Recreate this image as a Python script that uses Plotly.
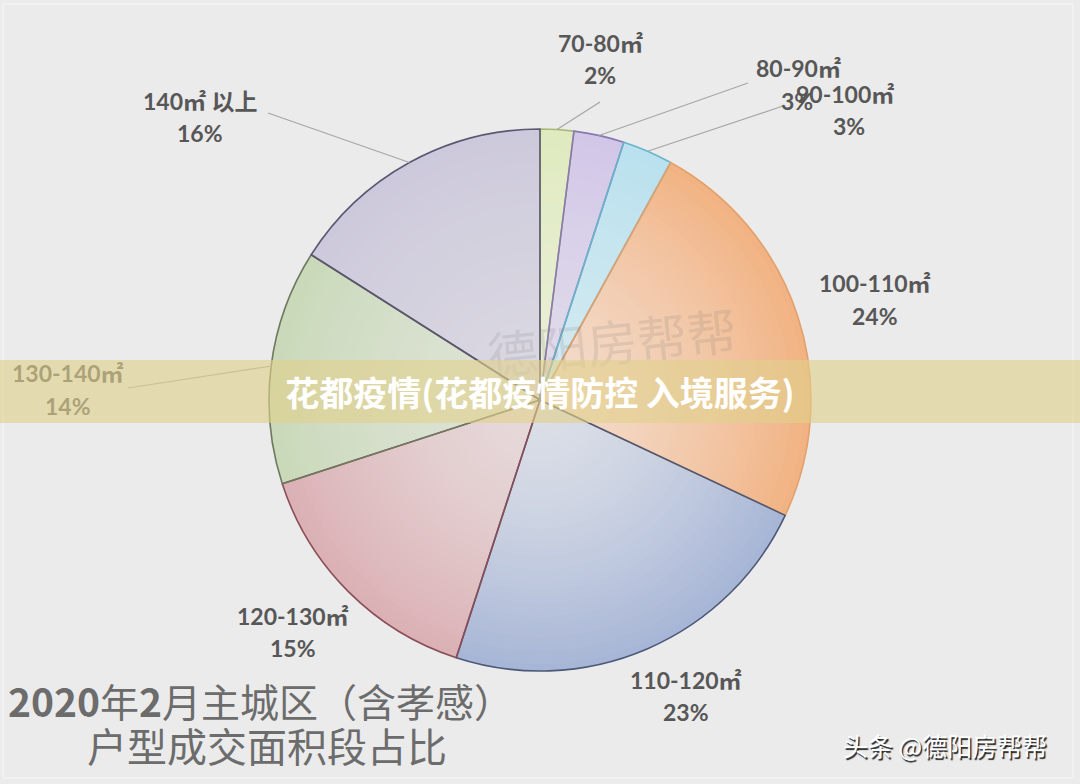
import math
import plotly.graph_objects as go

# ---- data ----
categories = ["70-80㎡", "80-90㎡", "90-100㎡", "100-110㎡", "110-120㎡",
              "120-130㎡", "130-140㎡", "140㎡ 以上"]
shares = [2, 3, 3, 24, 23, 15, 14, 16]
pct_labels = ["2%", "3%", "3%", "24%", "23%", "15%", "14%", "16%"]

# ---- styles ----
rim_colors = ["#dfeabf", "#d2c6e8", "#b9e1ee", "#f1b383", "#a7b6d6",
              "#dbb1b5", "#cad9ba", "#cdc9dc"]
center_colors = ["#e9efd6", "#e0dbea", "#d3e9f0", "#f3dccc", "#dcdfe7",
                 "#e6dadb", "#dfe4d8", "#dad8e1"]
line_colors = ["#a9b878", "#8a78b0", "#6ab4cc", "#e3a06a", "#4b5878",
               "#8a4e56", "#6e7a60", "#5c5670"]

W, H = 1080, 784
CX, CY, R = 540, 400, 271
BG = "#ebebeb"
LABEL_COLOR = "#575757"


def px_to_paper(x, y):
    return x / W, 1 - y / H


def hex_to_rgb(h):
    h = h.lstrip("#")
    return tuple(int(h[i:i + 2], 16) for i in (0, 2, 4))


def mix(c1, c2, t):
    a, b = hex_to_rgb(c1), hex_to_rgb(c2)
    return "rgb(%d,%d,%d)" % tuple(round(a[i] + (b[i] - a[i]) * t) for i in range(3))


def domain_for(f):
    r = f * R
    return dict(x=[(CX - r) / W, (CX + r) / W],
                y=[(H - CY - r) / H, (H - CY + r) / H])


fig = go.Figure()

# radial gradient via stacked pies of decreasing radius
N = 40
for k in range(N):
    f = 1 - k / N
    t = f ** 1.5
    cols = [mix(center_colors[i], rim_colors[i], t) for i in range(len(shares))]
    fig.add_trace(go.Pie(
        labels=categories, values=shares, sort=False, direction="clockwise",
        rotation=0, textinfo="none", hoverinfo="skip", showlegend=False,
        marker=dict(colors=cols, line=dict(width=0)),
        domain=domain_for(f),
    ))

# outlines
fig.add_trace(go.Pie(
    labels=categories, values=shares, sort=False, direction="clockwise",
    rotation=0, textinfo="none", hoverinfo="label+percent", showlegend=False,
    marker=dict(colors=["rgba(0,0,0,0)"] * len(shares),
                line=dict(color=line_colors, width=1.6)),
    domain=domain_for(1.0),
))

# label placement (pixel centres of the two text lines)
name_pos = [(600, 43), (798, 68), (845, 94), (875, 283), (686, 680),
            (293, 616), (68, 373), (200, 101)]
pct_pos = [(600, 75), (797, 101), (849, 126), (875, 316), (686, 712),
           (293, 648), (68, 406), (200, 133)]
# leader line end points near labels (None = no line)
leader_end = [(600, 102), (748, 83), (783, 106), None, None, None, (128, 388), (268, 113)]

total = sum(shares)
cum = 0
shapes = []
for i, v in enumerate(shares):
    mid = (cum + v / 2) / total * 2 * math.pi
    cum += v
    if leader_end[i] is None:
        continue
    rx = CX + R * math.sin(mid)
    ry = CY - R * math.cos(mid)
    x0, y0 = px_to_paper(rx, ry)
    x1, y1 = px_to_paper(*leader_end[i])
    shapes.append(dict(type="line", xref="paper", yref="paper",
                       x0=x0, y0=y0, x1=x1, y1=y1,
                       line=dict(color="#a6a6a6", width=1.2)))

# faint frame
shapes.append(dict(type="rect", xref="paper", yref="paper",
                   x0=3 / W, y0=1 - 778 / H, x1=1073 / W, y1=1 - 4 / H,
                   line=dict(color="#f3f3f3", width=1.5), layer="below"))

annotations = []
LABEL_FONT = "Lato, Noto Sans CJK SC, sans-serif"
for i in range(len(categories)):
    x, y = px_to_paper(*name_pos[i])
    annotations.append(dict(x=x, y=y, xref="paper", yref="paper",
                            xanchor="center", yanchor="middle", showarrow=False,
                            text="<b>%s</b>" % categories[i],
                            font=dict(family=LABEL_FONT, size=23, color=LABEL_COLOR)))
    x, y = px_to_paper(*pct_pos[i])
    annotations.append(dict(x=x, y=y, xref="paper", yref="paper",
                            xanchor="center", yanchor="middle", showarrow=False,
                            text="<b>%s</b>" % pct_labels[i],
                            font=dict(family=LABEL_FONT, size=23, color=LABEL_COLOR)))

# faint logo watermark in the pie
x, y = px_to_paper(612, 340)
annotations.append(dict(x=x, y=y, xref="paper", yref="paper", showarrow=False,
                        text="德阳房帮帮", textangle=-6,
                        font=dict(family="Noto Sans CJK SC", size=50,
                                  color="rgba(120,120,120,0.16)")))

# chart title, bottom left
TITLE_FONT = "Noto Sans CJK SC, sans-serif"
x, y = px_to_paper(260, 700)
annotations.append(dict(x=x, y=y, xref="paper", yref="paper", showarrow=False,
                        xanchor="center", yanchor="middle",
                        text="<b>2020</b>年<b>2</b>月主城区（含孝感）",
                        font=dict(family=TITLE_FONT, size=39, color="#6c6c6c")))
x, y = px_to_paper(267, 745)
annotations.append(dict(x=x, y=y, xref="paper", yref="paper", showarrow=False,
                        xanchor="center", yanchor="middle",
                        text="户型成交面积段占比",
                        font=dict(family=TITLE_FONT, size=40, color="#6c6c6c")))

# bottom-right watermark
x, y = px_to_paper(945, 745)
annotations.append(dict(x=x, y=y, xref="paper", yref="paper", showarrow=False,
                        xanchor="center", yanchor="middle",
                        text="头条 @德阳房帮帮",
                        font=dict(family=TITLE_FONT, size=25, color="white",
                                  shadow="1.5px 1.5px 1px #222222")))

# translucent banner with headline (drawn last, over everything)
x, y = px_to_paper(540, 391.5)
annotations.append(dict(x=x, y=y, xref="paper", yref="paper", showarrow=False,
                        xanchor="center", yanchor="middle",
                        width=W, height=63, borderpad=0, borderwidth=0,
                        bgcolor="rgba(225,208,140,0.62)",
                        text="<b>花都疫情(花都疫情防控 入境服务)</b>",
                        font=dict(family=TITLE_FONT, size=34, color="white")))

fig.update_layout(
    width=W, height=H, margin=dict(l=0, r=0, t=0, b=0),
    paper_bgcolor=BG, plot_bgcolor=BG,
    shapes=shapes, annotations=annotations, showlegend=False,
)

fig.write_html("out.html", config={"displayModeBar": False},
               post_script="document.body.style.margin='0px';"
                           "document.body.style.background='%s';" % BG)
